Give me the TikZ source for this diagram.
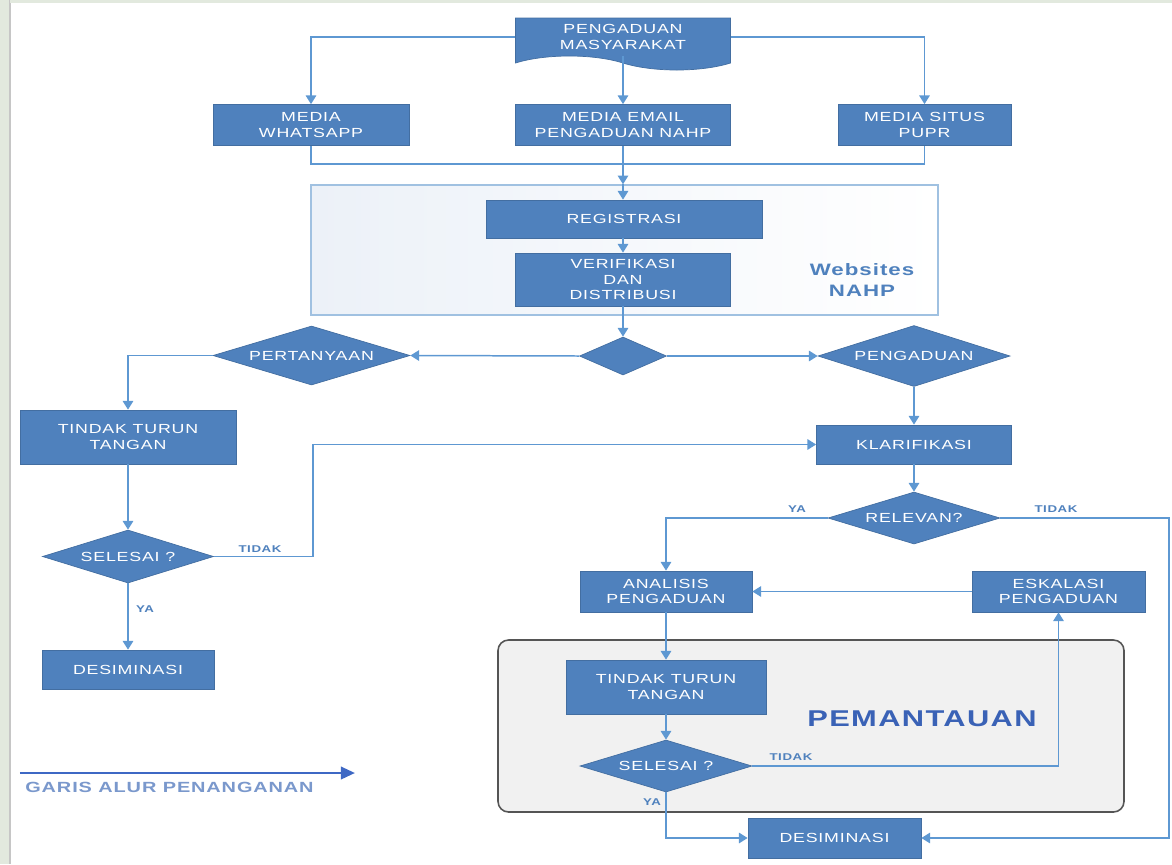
\documentclass[tikz,border=0pt]{standalone}
\usepackage{fontspec}
\setmainfont{Liberation Sans}[FakeStretch=1.35, LetterSpace=6]
\usetikzlibrary{arrows.meta, shapes.geometric, shapes.symbols}
\definecolor{cbox}{RGB}{79,129,189}
\definecolor{cline}{RGB}{94,152,210}
\definecolor{cweb}{RGB}{160,193,225}
\definecolor{cwebfill}{RGB}{236,241,248}
\definecolor{cpem}{RGB}{241,241,241}
\definecolor{cpemedge}{RGB}{85,85,85}
\definecolor{clabel}{RGB}{79,129,189}
\definecolor{ctitle}{RGB}{58,98,182}
\definecolor{clegend}{RGB}{62,104,196}
\definecolor{clegtext}{RGB}{122,152,204}
\definecolor{cstrip}{RGB}{226,233,222}
\tikzset{
  pbox/.style={   % process box
    draw=cbox!85!black, fill=cbox, text=white, line width=0.4pt,
    minimum height=0.82cm, align=center, inner sep=1pt,
    font=\fontsize{7.5}{8.6}\selectfont
  },
  dbox/.style={   % decision diamond
    diamond, draw=cbox!85!black, fill=cbox, text=white, line width=0.4pt,
    aspect=3.3, inner sep=0pt, align=center,
    font=\fontsize{7.5}{8.6}\selectfont
  },
  docbox/.style={ % document shape
    tape, tape bend top=none, tape bend bottom=out and in,
    tape bend height=0.28cm, draw=cbox!85!black, fill=cbox, text=white,
    line width=0.4pt, minimum width=4.30cm, minimum height=1.04cm,
    align=center, font=\fontsize{7.5}{8.6}\selectfont
  },
  webbox/.style={ % websites frame
    draw=cweb, line width=0.8pt, left color=cwebfill, right color=white,
    minimum width=12.54cm, minimum height=2.60cm
  },
  pembox/.style={ % pemantauan frame
    draw=cpemedge, fill=cpem, line width=0.9pt, rounded corners=6pt,
    minimum width=12.52cm, minimum height=3.44cm
  },
  lbl/.style={font=\bfseries\fontsize{5.6}{6}\selectfont, text=clabel, inner sep=1pt},
  flow/.style={-{Triangle[length=5pt, width=6pt]}, line width=0.85pt, color=cline},
  link/.style={line width=0.85pt, color=cline},
  legarr/.style={-{Triangle[length=8pt, width=7pt]}, line width=1.5pt, color=clegend},
}

\begin{document}
\begin{tikzpicture}
\useasboundingbox (0,0) rectangle (23.44,-17.28);

% page edge
\fill[cstrip] (0,0) rectangle (0.20,-17.28);
\draw[gray!45, line width=0.8pt] (0.20,0) -- (0.20,-17.28);
\fill[cstrip] (0.20,0) rectangle (23.44,-0.05);

%% --- frames ---------------------------------------------------------------
\node[webbox] (web) at (12.49,-5.00) {};
\node[pembox] (pem) at (16.22,-14.52) {};

%% --- top: complaint and media ------------------------------------------------
\node[docbox] (doc) at (12.46,-0.74) {PENGADUAN\\MASYARAKAT};

\node[pbox, minimum width=3.92cm] (wa)    at ( 6.22,-2.50) {MEDIA\\WHATSAPP};
\node[pbox, minimum width=4.30cm] (email) at (12.46,-2.50) {MEDIA EMAIL\\PENGADUAN NAHP};
\node[pbox, minimum width=3.46cm] (situs) at (18.49,-2.50) {MEDIA SITUS\\PUPR};

\draw[flow] (doc.west)  -| (wa.north);
\draw[flow] (doc.east)  -| (situs.north);
\draw[flow] (doc.south) -- (email.north);

\coordinate (merge) at (12.46,-3.28);
\draw[link] (wa.south) |- (merge);
\draw[link] (situs.south) |- (merge);
\draw[flow] (email.south) -- (email.south |- web.north);

%% --- websites NAHP ---------------------------------------------------------
\node[pbox, minimum width=5.52cm, minimum height=0.76cm] (reg) at (12.48,-4.38) {REGISTRASI};
\node[pbox, minimum width=4.30cm, minimum height=1.06cm] (ver) at (12.46,-5.59) {VERIFIKASI\\DAN\\DISTRIBUSI};
\node[font=\bfseries\fontsize{9.4}{12}\selectfont, text=cbox, align=center] (webname)
  at (17.24,-5.60) {Websites\\NAHP};

\draw[flow] (email.south |- web.north) -- (email.south |- reg.north);
\draw[flow] (reg.south -| ver.north) -- (ver.north);

%% --- split ----------------------------------------------------------------
\node[dbox, minimum width=1.74cm, minimum height=0.76cm] (split) at (12.46,-7.12) {};
\node[dbox, minimum width=3.94cm, minimum height=1.18cm] (tanya) at ( 6.23,-7.11) {PERTANYAAN};
\node[dbox, minimum width=3.84cm, minimum height=1.22cm] (adu)   at (18.28,-7.12) {PENGADUAN};

\draw[flow] (ver.south)  -- (split.north);
\draw[flow] (split.west) -- (tanya.east);
\draw[flow] (split.east) -- (adu.west);

%% --- left: questions --------------------------------------------------------
\node[pbox, minimum width=4.32cm, minimum height=1.08cm] (tttA) at (2.56,-8.74) {TINDAK TURUN\\TANGAN};
\node[dbox, minimum width=3.42cm, minimum height=1.06cm] (selA) at (2.56,-11.13) {SELESAI ?};
\node[pbox, minimum width=3.44cm, minimum height=0.78cm] (desA) at (2.56,-13.39) {DESIMINASI};

\draw[flow] (tanya.west) -| (tttA.north);
\draw[flow] (tttA.south) -- (selA.north);
\draw[flow] (selA.south) -- (desA.north);
\node[lbl] (yaA) at (2.90,-12.18) {YA};

%% --- right: complaints ------------------------------------------------------
\node[pbox, minimum width=3.90cm, minimum height=0.78cm] (klar) at (18.28,-8.89) {KLARIFIKASI};
\node[dbox, minimum width=3.44cm, minimum height=1.04cm] (rel)  at (18.28,-10.36) {RELEVAN?};

\draw[flow] (adu.south)  -- (klar.north);
\draw[flow] (klar.south) -- (rel.north);

\coordinate (backA) at (6.26,-11.13);
\draw[flow] (selA.east) -- (backA) |- (klar.west);
\node[lbl] (tidakA) at (5.20,-10.98) {TIDAK};

\node[pbox, minimum width=3.44cm] (anal) at (13.32,-11.83) {ANALISIS\\PENGADUAN};
\node[pbox, minimum width=3.46cm] (esk)  at (21.17,-11.83) {ESKALASI\\PENGADUAN};

\draw[flow] (rel.west) -| (anal.north);
\node[lbl] (yaR) at (15.94,-10.18) {YA};
\node[lbl] (tidakR) at (21.12,-10.18) {TIDAK};
\draw[flow] (esk.west) -- (anal.east);

%% --- pemantauan -------------------------------------------------------------
\node[pbox, minimum width=4.00cm, minimum height=1.08cm] (tttB) at (13.32,-13.74) {TINDAK TURUN\\TANGAN};
\node[dbox, minimum width=3.44cm, minimum height=1.04cm] (selB) at (13.32,-15.32) {SELESAI ?};
\node[font=\bfseries\fontsize{13}{15}\selectfont, text=ctitle] (pemname) at (18.44,-14.38) {PEMANTAUAN};
\node[pbox, minimum width=3.46cm, minimum height=0.80cm] (desB) at (16.69,-16.76) {DESIMINASI};

\draw[flow] (anal.south) -- (tttB.north);
\draw[flow] (tttB.south) -- (selB.north);
\draw[flow] (selB.east) -| (esk.south);
\node[lbl] (tidakB) at (15.82,-15.14) {TIDAK};
\draw[flow] (selB.south) |- (desB.west);
\node[lbl] (yaB) at (13.04,-16.04) {YA};

\coordinate (backR) at (23.38,-10.36);
\draw[flow] (rel.east) -- (backR) |- (desB.east);

%% --- legend -----------------------------------------------------------------
\coordinate (legA) at (0.40,-15.46);
\coordinate (legB) at (7.10,-15.46);
\draw[legarr] (legA) -- (legB);
\node[anchor=west, font=\bfseries\fontsize{8.4}{10}\selectfont, text=clegtext, inner sep=0pt]
  (legtext) at (0.50,-15.74) {GARIS ALUR PENANGANAN};

\end{tikzpicture}
\end{document}
